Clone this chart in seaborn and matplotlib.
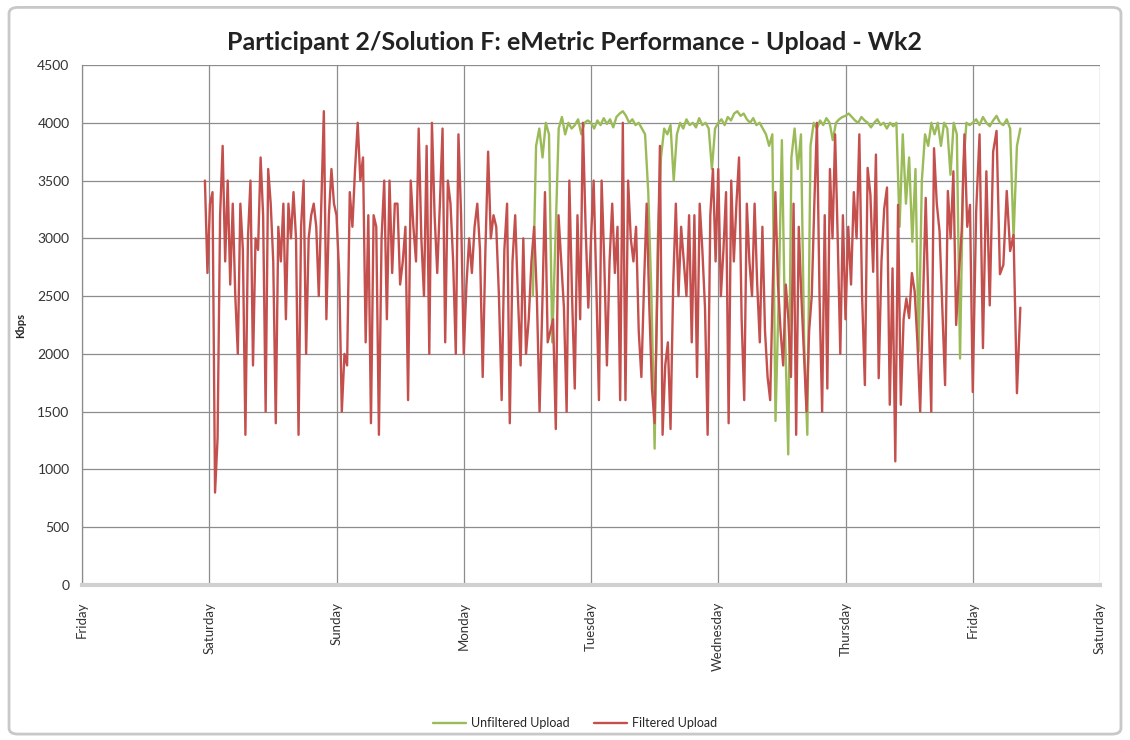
import numpy as np
import pandas as pd
import matplotlib
matplotlib.use("Agg")
import matplotlib.pyplot as plt
import seaborn as sns
from matplotlib.patches import FancyBboxPatch

# day labels on the x axis (0 = Friday of week 1)
day_labels = ["Friday", "Saturday", "Sunday", "Monday", "Tuesday",
              "Wednesday", "Thursday", "Friday", "Saturday"]

# Filtered upload (Kbps)
red_sat = [3500, 2700, 3300, 3400, 800, 1270, 3200, 3800, 2800, 3500, 2600, 3300, 2500,
           2000, 3300, 2900, 1300, 3000, 3500, 1900, 3000, 2900, 3700, 3200, 1500, 3600,
           3300, 2800, 1400, 3100, 2800, 3300, 2300, 3300, 3000, 3400, 3000, 1300, 3100,
           3500, 2000, 3000, 3200, 3300, 3100, 2500, 3300, 4100, 2300, 3200, 3600, 3300]
red_sun = [3200, 2700, 1500, 2000, 1900, 3400, 3100, 3600, 4000, 3500, 3700, 2100, 3200,
           1400, 3200, 3100, 1300, 3000, 3500, 2300, 3500, 2700, 3300, 3300, 2600, 2800,
           3100, 1600, 3500, 3100, 2800, 3950, 3000, 2500, 3800, 2000, 4000, 3200, 2700,
           3300, 3950, 2100, 3500, 3300, 2800, 2000, 3900, 3200]
red_mon = [2000, 2600, 3000, 2700, 3100, 3300, 2900, 1800, 2900, 3750, 3000, 3200, 3100,
           2500, 1600, 2900, 3300, 1400, 2800, 3200, 2500, 1900, 3000, 2000, 2300, 2800,
           3100, 2500, 1500, 2400, 3400, 2100, 2200, 2300, 1350, 3200, 2800, 2400, 1500,
           3500, 2500, 1700, 3200, 2300, 4000, 3100, 2400]
red_tue = [3000, 3500, 2600, 1600, 3500, 2800, 1900, 2800, 3300, 2700, 3100, 1600, 4000,
           1600, 3500, 3000, 2800, 3100, 2200, 1800, 2600, 3300, 2400, 1700, 1400, 2500,
           3800, 1300, 1900, 2100, 1350, 2600, 3300, 2500, 3100, 2800, 2500, 3200, 2100,
           3200, 1800, 3300, 2900, 2400, 1300, 3200, 3600, 2800]
red_wed = [3600, 2500, 2900, 3400, 1400, 3500, 2800, 3300, 3700, 2300, 1600, 3300, 2800,
           2500, 3300, 2600, 2100, 3100, 2200, 1800, 1600, 2600, 3400, 2600, 2200, 1900,
           2600, 2300, 1800, 3300, 1300, 3100, 2500, 2000, 1500, 2200, 2500, 3300, 4000,
           2500, 1500, 3200, 1700, 3600, 3000, 3900, 3000, 2000, 3200]
red_thu = [2300, 3100, 2600, 3400, 3000, 3900, 2500, 1730, 3610, 3380, 2710, 3725, 1790,
           2800, 3260, 3440, 1560, 2740, 1070, 3290, 1560, 2300, 2480, 2310, 2700, 2540,
           2100, 1500, 2420, 3350, 2400, 1500, 3780, 3300, 3060, 2400, 1730, 3410, 3000,
           3580, 2250, 2700, 3060, 3900, 3100, 3290]
red_fri = [1670, 3230, 3900, 2050, 3580, 2420, 3750, 3930, 2690, 2770, 3410, 2890, 3030,
           1660, 2400]
red_edges = [0.966, 2, 3, 4, 5, 6, 7, 7.374]   # start / day boundaries / end (days)

# Unfiltered upload (Kbps), only visible where it differs from the filtered one
green_mon = [2500, 3800, 3950, 3700, 4000, 3900, 2100, 3000, 3950, 4050, 3900, 4000,
             3950, 3980, 4030, 3900, 4000, 4020]
green_tue = [4000, 3950, 4020, 3980, 4040, 3990, 4030, 3960, 4050, 4080, 4100, 4060,
             4000, 4030, 3980, 4000, 3950, 3900, 3400, 2500, 1180, 3000, 3700, 3950,
             3900, 3980, 3500, 3900, 4000, 3950, 4030, 3980, 4000, 3960, 4040, 3980,
             4000, 3950, 3600, 3950]
green_wed = [4000, 4030, 3980, 4050, 4020, 4080, 4100, 4060, 4080, 4030, 4000, 4040,
             3980, 4000, 3950, 3900, 3800, 3900, 1420, 2500, 3850, 2200, 1130, 3700,
             3950, 3600, 3900, 2100, 1300, 3800, 4000, 3950, 4020, 3980, 4040, 4000,
             3850, 4000, 4030, 4050]
green_thu = [4060, 4080, 4050, 4020, 4000, 4050, 4020, 4000, 3960, 4000, 4030, 3980,
             4000, 3950, 4000, 3970, 4000, 3100, 3900, 3300, 3700, 2970, 3600, 2020,
             3500, 3900, 3800, 4000, 3900, 4000, 3800, 4000, 3950, 3550, 4000, 3900,
             1960, 3600, 4000, 3980]
green_fri = [4000, 4030, 3980, 4050, 4000, 3970, 4020, 4060, 4000, 3980, 4030, 3950,
             3000, 3800, 3950]
green_edges = [3.543, 4, 5, 6, 7, 7.374]


def build_series(segments, edges, name):
    # spread each day's readings evenly over that day
    frames = []
    for i, vals in enumerate(segments):
        last = i == len(segments) - 1
        t = np.linspace(edges[i], edges[i + 1], len(vals), endpoint=last)
        frames.append(pd.DataFrame({"day": t, "kbps": vals, "series": name}))
    return pd.concat(frames, ignore_index=True)


df = pd.concat([
    build_series([green_mon, green_tue, green_wed, green_thu, green_fri], green_edges,
                 "Unfiltered Upload"),
    build_series([red_sat, red_sun, red_mon, red_tue, red_wed, red_thu, red_fri], red_edges,
                 "Filtered Upload"),
], ignore_index=True)

sns.set_style("whitegrid")
plt.rcParams["font.family"] = ["Lato", "DejaVu Sans"]

fig, ax = plt.subplots(figsize=(11.3, 7.4), dpi=100)
fig.subplots_adjust(left=82 / 1130, right=1100 / 1130, top=1 - 65 / 740, bottom=1 - 585 / 740)

palette = {"Unfiltered Upload": "#9BBB59", "Filtered Upload": "#C4504E"}
sns.lineplot(data=df, x="day", y="kbps", hue="series",
             hue_order=["Unfiltered Upload", "Filtered Upload"],
             palette=palette, estimator=None, lw=1.7, ax=ax)

ax.set_xlim(0, 8)
ax.set_ylim(0, 4500)
ax.set_xticks(range(len(day_labels)))
ax.set_xticklabels(day_labels, rotation=90, va="top", ha="center", fontsize=9.5)
ax.set_yticks(np.arange(0, 4501, 500))
ax.set_yticklabels([str(v) for v in range(0, 4501, 500)], fontsize=10)
ax.set_xlabel("")
ax.set_ylabel("")

ax.grid(True, color="#8c8c8c", lw=0.9)
ax.tick_params(axis="both", length=4, width=0.9, color="#8c8c8c", colors="#333333")
ax.tick_params(axis="y", pad=5)
ax.tick_params(axis="x", pad=8)
for s in ["top", "right"]:
    ax.spines[s].set_visible(False)
ax.spines["left"].set_color("#8c8c8c")
ax.spines["left"].set_linewidth(0.9)
ax.spines["bottom"].set_color("#d0d0d0")
ax.spines["bottom"].set_linewidth(3)

ax.get_legend().remove()
handles, labels = ax.get_legend_handles_labels()
fig.legend(handles, labels, loc="center", bbox_to_anchor=(575 / 1130, 1 - 723 / 740),
           ncol=2, frameon=False, fontsize=9, handlelength=2.6, handletextpad=0.4,
           columnspacing=2.0)

fig.text(574 / 1130, 1 - 43 / 740,
         "Participant 2/Solution F: eMetric Performance - Upload - Wk2",
         ha="center", va="center", fontsize=18, fontweight="bold", color="#222222")
fig.text(21 / 1130, 1 - 325 / 740, "Kbps", rotation=90, ha="center", va="center",
         fontsize=8, fontweight="bold")

# light grey chart-area border
fig.patches.append(FancyBboxPatch((0.008, 0.008), 0.984, 0.982,
                                  boxstyle="round,pad=0,rounding_size=0.008",
                                  transform=fig.transFigure, fc="none",
                                  ec="#c8c8c8", lw=2))

fig.savefig("out.png", dpi=100)
